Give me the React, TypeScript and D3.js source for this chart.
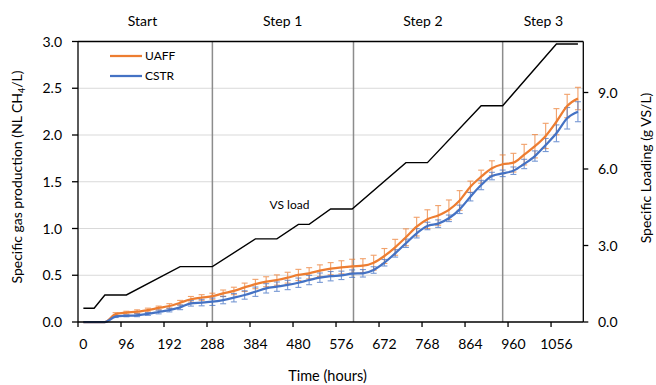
import React from 'react';
import * as d3 from 'd3';

// Sampling times (hours), one sample per day
const hours = [
  0, 24, 48, 72, 96, 120, 144, 168, 192, 216, 240, 264, 288, 312, 336, 360,
  384, 408, 432, 456, 480, 504, 528, 552, 576, 600, 624, 648, 672, 696, 720,
  744, 768, 792, 816, 840, 864, 888, 912, 936, 960, 984, 1008, 1032, 1056,
  1080, 1104,
];

// Specific gas production (NL CH4/L)
const uaff = [
  0, 0, 0, 0.085, 0.1, 0.11, 0.128, 0.15, 0.171, 0.206, 0.243, 0.262, 0.276,
  0.307, 0.332, 0.371, 0.406, 0.431, 0.449, 0.474, 0.503, 0.521, 0.549, 0.57,
  0.585, 0.596, 0.602, 0.634, 0.706, 0.799, 0.906, 1.02, 1.1, 1.14, 1.2, 1.3,
  1.447, 1.554, 1.644, 1.687, 1.704, 1.79, 1.88, 1.99, 2.142, 2.31, 2.39,
];
const uaffErr = [
  0, 0, 0, 0.015, 0.015, 0.02, 0.02, 0.02, 0.025, 0.025, 0.03, 0.03, 0.032,
  0.035, 0.04, 0.045, 0.05, 0.053, 0.055, 0.058, 0.06, 0.06, 0.062, 0.065,
  0.07, 0.075, 0.075, 0.08, 0.08, 0.085, 0.09, 0.1, 0.1, 0.105, 0.105, 0.105,
  0.06, 0.07, 0.08, 0.1, 0.1, 0.11, 0.125, 0.135, 0.14, 0.125, 0.12,
];
const cstr = [
  0, 0, 0, 0.058, 0.066, 0.072, 0.086, 0.107, 0.128, 0.157, 0.2, 0.208, 0.217,
  0.235, 0.26, 0.289, 0.324, 0.36, 0.378, 0.396, 0.42, 0.449, 0.474, 0.49,
  0.499, 0.517, 0.521, 0.556, 0.634, 0.734, 0.842, 0.949, 1.027, 1.052, 1.109,
  1.205, 1.34, 1.465, 1.561, 1.59, 1.618, 1.69, 1.775, 1.893, 2.018, 2.179,
  2.249,
];
const cstrErr = [
  0, 0, 0, 0.01, 0.01, 0.015, 0.015, 0.02, 0.02, 0.025, 0.03, 0.035, 0.04,
  0.04, 0.045, 0.045, 0.05, 0.05, 0.05, 0.05, 0.05, 0.05, 0.05, 0.05, 0.045,
  0.04, 0.04, 0.035, 0.035, 0.04, 0.045, 0.05, 0.04, 0.04, 0.035, 0.045,
  0.045, 0.05, 0.04, 0.035, 0.04, 0.05, 0.055, 0.07, 0.09, 0.115, 0.107,
];

// Specific VS loading (g VS/L), breakpoints of the loading schedule
const loadHours = [
  0, 24, 48, 96, 216, 288, 384, 432, 480, 504, 552, 600, 720, 768, 888, 936,
  1056, 1104,
];
const loadValues = [
  0.54, 0.54, 1.06, 1.06, 2.17, 2.17, 3.26, 3.26, 3.83, 3.83, 4.43, 4.43, 6.25,
  6.25, 8.48, 8.48, 10.9, 10.9,
];

// Operating phases
const phaseNames = ['Start', 'Step 1', 'Step 2', 'Step 3'];
const phaseStarts = [288, 603, 936];

const hourTicks = [0, 96, 192, 288, 384, 480, 576, 672, 768, 864, 960, 1056];
const gasTicks = [0, 0.5, 1.0, 1.5, 2.0, 2.5, 3.0];
const loadTicks = [0, 3, 6, 9];

// Layout
const W = 656;
const H = 385;
const L = 78;
const R = 583.3;
const T = 41.5;
const B = 322;
const phaseLabelHours = [132, 445, 758, 1027];
const FONT = 'Lato, "Open Sans", sans-serif';
const ORANGE = '#ED7D31';
const BLUE = '#4472C4';

export default function App() {
  const x = d3.scaleLinear().domain([-12, 1116]).range([L, R]);
  const yGas = d3.scaleLinear().domain([0, 3]).range([B, T]);
  const yLoad = d3.scaleLinear().domain([0, 11]).range([B, T]);

  const gasLine = d3
    .line<number>()
    .x((_, i) => x(hours[i]))
    .y((d) => yGas(d))
    .curve(d3.curveMonotoneX);

  const loadLine = d3
    .line<number>()
    .x((_, i) => x(loadHours[i]))
    .y((d) => yLoad(d));

  const errorBars = (vals: number[], errs: number[], color: string) =>
    vals.map((v, i) => {
      const e = errs[i];
      if (!e) return null;
      const cx = x(hours[i]);
      const y1 = yGas(v + e);
      const y2 = yGas(v - e);
      return (
        <g key={i} stroke={color} strokeWidth={1.1} opacity={0.72}>
          <line x1={cx} x2={cx} y1={y1} y2={y2} />
          <line x1={cx - 3} x2={cx + 3} y1={y1} y2={y1} />
          <line x1={cx - 3} x2={cx + 3} y1={y2} y2={y2} />
        </g>
      );
    });

  return (
    <svg
      width={W}
      height={H}
      style={{ position: 'absolute', left: 0, top: 0, background: '#fff' }}
      fontFamily={FONT}
    >
      <rect x={0} y={0} width={W} height={H} fill="#fff" />

      {/* horizontal gridlines */}
      {gasTicks
        .filter((t) => t > 0 && t < 3)
        .map((t) => (
          <line
            key={t}
            x1={L}
            x2={R}
            y1={yGas(t)}
            y2={yGas(t)}
            stroke="#D9D9D9"
            strokeWidth={1}
          />
        ))}

      {/* phase boundaries */}
      {phaseStarts.map((h) => (
        <line
          key={h}
          x1={x(h)}
          x2={x(h)}
          y1={T}
          y2={B}
          stroke="#8C8C8C"
          strokeWidth={1.5}
        />
      ))}
      {phaseNames.map((name, i) => (
        <text
          key={name}
          x={x(phaseLabelHours[i])}
          y={26}
          textAnchor="middle"
          fontSize={14}
          fill="#000"
        >
          {name}
        </text>
      ))}

      {/* VS loading */}
      <path
        d={loadLine(loadValues) || ''}
        fill="none"
        stroke="#000"
        strokeWidth={1.4}
      />
      <text x={289.5} y={209} textAnchor="middle" fontSize={12} fill="#000">
        VS load
      </text>

      {/* gas production series */}
      {errorBars(uaff, uaffErr, ORANGE)}
      {errorBars(cstr, cstrErr, BLUE)}
      <path
        d={gasLine(uaff) || ''}
        fill="none"
        stroke={ORANGE}
        strokeWidth={2.25}
      />
      <path
        d={gasLine(cstr) || ''}
        fill="none"
        stroke={BLUE}
        strokeWidth={2.25}
      />

      {/* frame */}
      <g stroke="#000" strokeWidth={1.3} fill="none">
        <line x1={L} x2={R} y1={T} y2={T} />
        <line x1={L} x2={R} y1={B} y2={B} />
        <line x1={L} x2={L} y1={T} y2={B} />
        <line x1={R} x2={R} y1={T} y2={B} />
      </g>

      {/* bottom axis: marks at day boundaries, labels at day centres */}
      {hourTicks.map((h) => (
        <g key={h}>
          <line
            x1={x(h - 12)}
            x2={x(h - 12)}
            y1={B}
            y2={B + 5}
            stroke="#000"
            strokeWidth={1.3}
          />
          <text x={x(h)} y={349} textAnchor="middle" fontSize={14} fill="#000">
            {h}
          </text>
        </g>
      ))}
      <text x={327.5} y={381} textAnchor="middle" fontSize={14.5} fill="#000">
        Time (hours)
      </text>

      {/* left axis */}
      {gasTicks.map((t) => (
        <g key={t}>
          <line
            x1={L - 6}
            x2={L}
            y1={yGas(t)}
            y2={yGas(t)}
            stroke="#000"
            strokeWidth={1.3}
          />
          <text
            x={62}
            y={yGas(t) + 5}
            textAnchor="end"
            fontSize={14}
            fill="#000"
          >
            {t.toFixed(1)}
          </text>
        </g>
      ))}
      <text
        transform={`translate(22,177) rotate(-90)`}
        textAnchor="middle"
        fontSize={14}
        fill="#000"
      >
        Specific gas production (NL CH
        <tspan fontSize={9} dy={3}>
          4
        </tspan>
        <tspan dy={-3}>/L)</tspan>
      </text>

      {/* right axis */}
      {loadTicks.map((t) => (
        <g key={t}>
          <line
            x1={R}
            x2={R + 5}
            y1={yLoad(t)}
            y2={yLoad(t)}
            stroke="#000"
            strokeWidth={1.3}
          />
          <text x={598} y={yLoad(t) + 5} fontSize={14} fill="#000">
            {t.toFixed(1)}
          </text>
        </g>
      ))}
      <text
        transform={`translate(651,168) rotate(-90)`}
        textAnchor="middle"
        fontSize={14}
        fill="#000"
      >
        Specific Loading (g VS/L)
      </text>

      {/* legend */}
      <line x1={110} x2={142} y1={56} y2={56} stroke={ORANGE} strokeWidth={2.25} />
      <text x={145} y={60} fontSize={12} fill="#000">
        UAFF
      </text>
      <line x1={110} x2={142} y1={76} y2={76} stroke={BLUE} strokeWidth={2.25} />
      <text x={145} y={80} fontSize={12} fill="#000">
        CSTR
      </text>
    </svg>
  );
}
